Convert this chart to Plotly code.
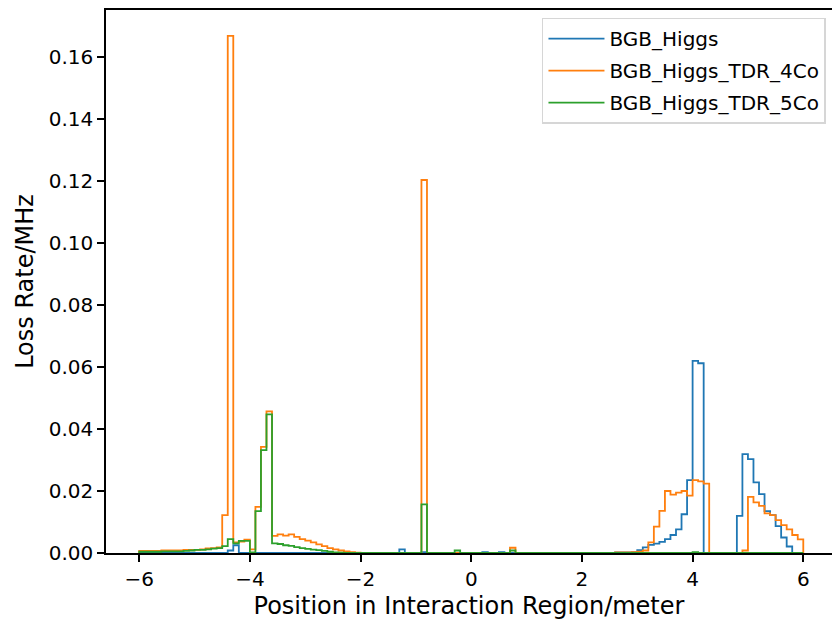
import numpy as np
import plotly.graph_objects as go

# Bin edges: 120 bins of 0.1 m from -6 to 6
bin_start = -6.0
bin_stop = 6.0
n_bins = 120

series_names = ["BGB_Higgs", "BGB_Higgs_TDR_4Co", "BGB_Higgs_TDR_5Co"]
series_colors = ["#1f77b4", "#ff7f0e", "#2ca02c"]

bgb_higgs = [
    0, 0, 0, 0, 0, 0, 0, 0, 0, 0,
    0, 0, 0, 0, 0, 0, 0.0008, 0.0025, 0, 0,
    0, 0, 0, 0, 0, 0, 0, 0, 0, 0,
    0, 0, 0, 0, 0, 0, 0, 0, 0, 0,
    0, 0, 0, 0, 0, 0, 0, 0.0012, 0, 0,
    0, 0.0003, 0, 0, 0, 0, 0, 0, 0, 0,
    0, 0, 0.0003, 0, 0, 0.0003, 0, 0, 0, 0,
    0, 0, 0, 0, 0, 0, 0, 0, 0, 0,
    0, 0, 0, 0, 0, 0, 0.0002, 0.0002, 0.0002, 0.0003,
    0.0009, 0.0018, 0.0026, 0.0030, 0.0036, 0.0045, 0.0058, 0.0076, 0.0125, 0.0235,
    0.0620, 0.0612, 0, 0, 0, 0, 0, 0, 0.0120, 0.0319,
    0.0303, 0.0228, 0.0190, 0.0135, 0.0122, 0.0087, 0.0050, 0.0021, 0, 0,
]

bgb_higgs_tdr_4co = [
    0.0007, 0.0007, 0.0007, 0.0007, 0.0008, 0.0008, 0.0008, 0.0008, 0.0010, 0.0010,
    0.0010, 0.0012, 0.0015, 0.0016, 0.0018, 0.0122, 0.1668, 0.0034, 0.0037, 0.0043,
    0.0012, 0.0149, 0.0342, 0.0457, 0.0055, 0.0060, 0.0056, 0.0060, 0.0052, 0.0045,
    0.0040, 0.0034, 0.0028, 0.0022, 0.0016, 0.0012, 0.0008, 0.0005, 0.0003, 0.0001,
    0, 0, 0, 0, 0, 0, 0, 0, 0, 0,
    0, 0.1203, 0, 0, 0, 0, 0, 0, 0, 0,
    0, 0, 0, 0, 0, 0, 0, 0.0017, 0, 0,
    0, 0, 0, 0, 0, 0, 0, 0, 0, 0,
    0, 0, 0, 0, 0, 0, 0.0002, 0.0002, 0.0002, 0.0003,
    0.0004, 0.0008, 0.0034, 0.0085, 0.0136, 0.0200, 0.0188, 0.0195, 0.0200, 0.0185,
    0.0235, 0.0231, 0.0224, 0, 0, 0, 0, 0, 0, 0.0008,
    0.0181, 0.0163, 0.0152, 0.0128, 0.0122, 0.0106, 0.0090, 0.0076, 0.0058, 0.0044,
]

bgb_higgs_tdr_5co = [
    0.0004, 0.0004, 0.0004, 0.0004, 0.0005, 0.0005, 0.0005, 0.0005, 0.0007, 0.0008,
    0.0010, 0.0010, 0.0012, 0.0014, 0.0016, 0.0022, 0.0045, 0.0031, 0.0039, 0.0039,
    0.0002, 0.0135, 0.0332, 0.0447, 0.0031, 0.0029, 0.0025, 0.0023, 0.0019, 0.0016,
    0.0013, 0.0011, 0.0009, 0.0007, 0.0004, 0.0002, 0.0001, 0, 0, 0,
    0, 0, 0, 0, 0, 0, 0, 0, 0, 0,
    0, 0.0157, 0, 0, 0, 0, 0, 0.0008, 0, 0,
    0, 0, 0, 0, 0, 0, 0, 0.0008, 0, 0,
    0, 0, 0, 0, 0, 0, 0, 0, 0, 0,
    0, 0, 0, 0, 0, 0, 0, 0, 0, 0,
    0, 0, 0, 0, 0, 0, 0, 0, 0, 0,
    0.0003, 0, 0, 0, 0, 0, 0, 0, 0, 0,
    0, 0, 0, 0, 0, 0, 0, 0, 0, 0,
]

x_ticks = [-6, -4, -2, 0, 2, 4, 6]
y_ticks = [0, 0.02, 0.04, 0.06, 0.08, 0.10, 0.12, 0.14, 0.16]

edges = np.linspace(bin_start, bin_stop, n_bins + 1)

fig = go.Figure()
for name, color, vals in zip(series_names, series_colors,
                             [bgb_higgs, bgb_higgs_tdr_4co, bgb_higgs_tdr_5co]):
    xs = np.concatenate([[edges[0]], edges])
    ys = np.concatenate([[0.0], np.asarray(vals, dtype=float), [0.0]])
    fig.add_trace(go.Scatter(
        x=xs, y=ys, mode="lines", name=name, legendgroup=name,
        line=dict(color=color, width=1.8, shape="hv"),
    ))

font = dict(family="DejaVu Sans", size=20, color="black")
ymax = max(max(bgb_higgs), max(bgb_higgs_tdr_4co), max(bgb_higgs_tdr_5co)) * 1.05

fig.update_layout(
    width=832, height=620,
    margin=dict(l=106, r=0, t=10, b=67),
    paper_bgcolor="white", plot_bgcolor="white",
    font=font,
    showlegend=True,
    legend=dict(
        x=0.9917, y=0.986, xanchor="right", yanchor="top",
        bgcolor="white", bordercolor="#d6d6d6", borderwidth=1.5,
        font=dict(family="DejaVu Sans", size=20, color="black"),
        itemwidth=56, tracegroupgap=3, traceorder="grouped",
    ),
    xaxis=dict(
        range=[-6.6, 6.519], tickvals=x_ticks,
        showline=True, linecolor="black", linewidth=1.5, mirror=True,
        ticks="outside", ticklen=7, tickwidth=1.5, tickcolor="black",
        showgrid=False, zeroline=False,
        title=dict(text="Position in Interaction Region/meter", standoff=8),
        tickfont=font,
    ),
    yaxis=dict(
        range=[0, ymax], tickvals=y_ticks, tickformat=".2f",
        showline=True, linecolor="black", linewidth=1.5, mirror=False,
        ticks="outside", ticklen=7, tickwidth=1.5, tickcolor="black",
        showgrid=False, zeroline=False,
        title=dict(text="Loss Rate/MHz", standoff=8),
        tickfont=font,
    ),
)

fig.write_html("out.html", config={"displayModeBar": False},
               post_script="document.body.style.margin='0';")
